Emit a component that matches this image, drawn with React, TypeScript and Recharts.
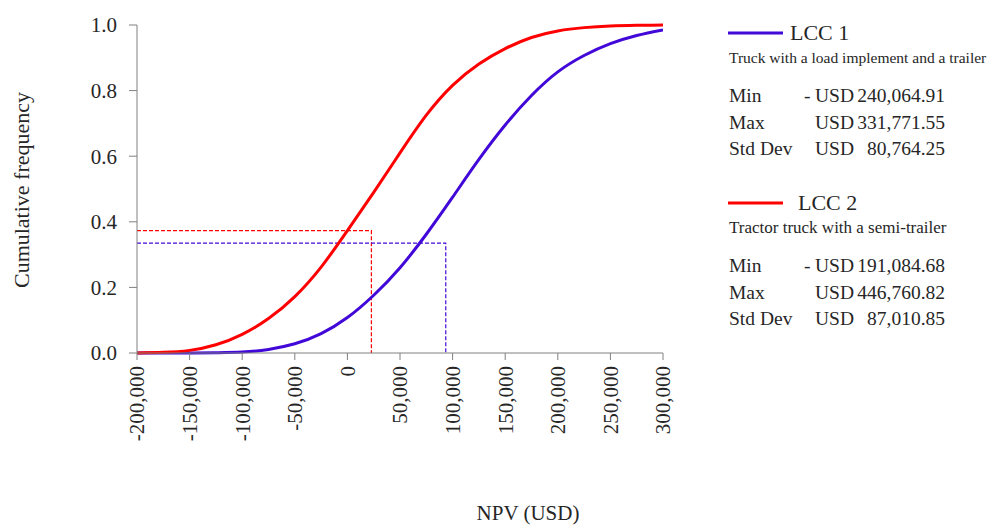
import { LineChart, Line, XAxis, YAxis } from 'recharts'

// NPV grid (USD) and cumulative frequency
const npv = [
  -200000, -175000, -150000, -125000, -100000, -75000, -50000, -25000, 0,
  25000, 50000, 75000, 100000, 125000, 150000, 175000, 200000, 225000,
  250000, 275000, 300000,
]
const lcc1 = [
  0.0, 0.0, 0.0, 0.001, 0.003, 0.011, 0.028, 0.059, 0.108,
  0.176, 0.26, 0.362, 0.475, 0.59, 0.695, 0.785, 0.857, 0.907,
  0.943, 0.968, 0.985,
]
const lcc2 = [
  0.0, 0.002, 0.008, 0.025, 0.057, 0.105, 0.172, 0.262, 0.373,
  0.49, 0.61, 0.725, 0.816, 0.881, 0.928, 0.962, 0.982, 0.992,
  0.997, 0.999, 1.0,
]

// dashed guide lines: [npv, frequency]
const guide1 = [93500, 0.335]
const guide2 = [22800, 0.373]

const xTicks = [-200000, -150000, -100000, -50000, 0, 50000, 100000, 150000, 200000, 250000, 300000]
const yTicks = [0, 0.2, 0.4, 0.6, 0.8, 1.0]

const legend = [
  { name: 'LCC 1', desc: 'Truck with a load implement and a trailer', min: '240,064.91', max: '331,771.55', sd: '80,764.25' },
  { name: 'LCC 2', desc: 'Tractor truck with a semi-trailer', min: '191,084.68', max: '446,760.82', sd: '87,010.85' },
]

const BLUE = '#4108d8'
const RED = '#ff0000'
const FONT = '"Liberation Serif", serif'
const TXT = '#262626'
const AXIS = '#808080'

const data = npv.map((x, i) => ({ npv: x, lcc1: lcc1[i], lcc2: lcc2[i] }))
const guideData = (g: number[]) => [
  { npv: npv[0], p: g[1] },
  { npv: g[0], p: g[1] },
  { npv: g[0], p: 0 },
]

const XTick = (props: any) => {
  const { x, y, payload } = props
  return (
    <text
      x={x}
      y={y}
      transform={`rotate(-90, ${x}, ${y})`}
      textAnchor="end"
      dy="0.35em"
      fontFamily={FONT}
      fontSize={21}
      fill={TXT}
    >
      {payload.value.toLocaleString('en-US')}
    </text>
  )
}

function Legend() {
  const blocks = [0, 170]
  return (
    <svg width={1005} height={526} style={{ position: 'absolute', left: 0, top: 0, pointerEvents: 'none' }}>
      <g fontFamily={FONT} fill={TXT}>
        {legend.map((l, i) => {
          const t = blocks[i]
          const color = i === 0 ? BLUE : RED
          return (
            <g key={l.name}>
              <line x1={728} x2={783} y1={t + 33} y2={t + 33} stroke={color} strokeWidth={3} />
              <text x={i === 0 ? 790 : 798} y={t + 40} fontSize={22}>{l.name}</text>
              <text x={729} y={t + 63} fontSize={i === 0 ? 15.5 : 17}>{l.desc}</text>
              {[['Min', l.min], ['Max', l.max], ['Std Dev', l.sd]].map(([k, v], j) => {
                const by = t + 102 + j * 26.5
                return (
                  <g key={k} fontSize={19.5}>
                    <text x={729} y={by}>{k}</text>
                    {j === 0 && <text x={804} y={by}>-</text>}
                    <text x={815} y={by}>USD</text>
                    <text x={945} y={by} textAnchor="end">{v}</text>
                  </g>
                )
              })}
            </g>
          )
        })}
        <text x={528} y={520} fontSize={21} textAnchor="middle">NPV (USD)</text>
        <text x={29} y={190} fontSize={22} textAnchor="middle" transform="rotate(-90, 29, 190)">
          Cumulative frequency
        </text>
      </g>
    </svg>
  )
}

export default function App() {
  return (
    <div style={{ position: 'absolute', left: 0, top: 0, width: 1005, height: 526, background: '#fff' }}>
      <LineChart
        width={1005}
        height={526}
        data={data}
        margin={{ top: 25, right: 342, bottom: 73, left: 77 }}
      >
        <XAxis
          type="number"
          dataKey="npv"
          domain={[-200000, 300000]}
          ticks={xTicks}
          interval={0}
          height={100}
          stroke={AXIS}
          tickSize={7}
          tickMargin={6}
          tick={<XTick />}
          allowDataOverflow
        />
        <YAxis
          type="number"
          domain={[0, 1]}
          ticks={yTicks}
          interval={0}
          width={60}
          stroke={AXIS}
          tickSize={8}
          tickMargin={12}
          tickFormatter={(v: number) => v.toFixed(1)}
          tick={{ fill: TXT, fontSize: 21, fontFamily: FONT }}
        />
        <Line
          data={guideData(guide2)}
          dataKey="p"
          type="linear"
          stroke={RED}
          strokeWidth={1.2}
          strokeDasharray="4 2"
          dot={false}
          isAnimationActive={false}
        />
        <Line
          data={guideData(guide1)}
          dataKey="p"
          type="linear"
          stroke={BLUE}
          strokeWidth={1.2}
          strokeDasharray="4 2"
          dot={false}
          isAnimationActive={false}
        />
        <Line
          dataKey="lcc1"
          type="natural"
          stroke={BLUE}
          strokeWidth={3}
          dot={false}
          isAnimationActive={false}
        />
        <Line
          dataKey="lcc2"
          type="natural"
          stroke={RED}
          strokeWidth={3}
          dot={false}
          isAnimationActive={false}
        />
      </LineChart>
      <Legend />
    </div>
  )
}
